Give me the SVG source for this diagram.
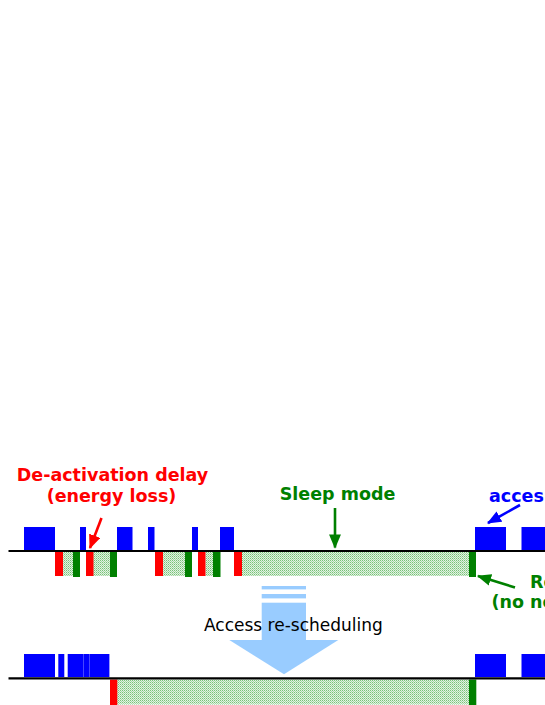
<svg xmlns="http://www.w3.org/2000/svg" width="545" height="705" viewBox="0 0 545 705">
<defs>
<style>
.blue{fill:#0000ff}
.red{fill:#ff0000}
.green{fill:#008000}
.hatch{fill:url(#dots)}
.axis{stroke:#000;stroke-width:2.2;fill:none}
.lbl{font-family:"DejaVu Sans",Verdana,sans-serif;font-weight:bold;font-size:17.5px}
.plain{font-family:"DejaVu Sans",Verdana,sans-serif;font-size:17px;fill:#000}
.big{fill:#99ccff}
</style>
<pattern id="dots" width="2" height="2" patternUnits="userSpaceOnUse">
<rect width="2" height="2" fill="#e2f2e2"/>
<rect width="1" height="1" fill="#78c278"/>
<rect x="1" y="1" width="1" height="1" fill="#a6d8a6"/>
</pattern>
<marker id="ar-red" viewBox="0 0 12 10" refX="11" refY="5" markerWidth="5.5" markerHeight="4.6" orient="auto" markerUnits="strokeWidth"><path d="M0,0 L12,5 L0,10 z" fill="#ff0000"/></marker>
<marker id="ar-green" viewBox="0 0 12 10" refX="11" refY="5" markerWidth="5.5" markerHeight="4.6" orient="auto" markerUnits="strokeWidth"><path d="M0,0 L12,5 L0,10 z" fill="#008000"/></marker>
<marker id="ar-blue" viewBox="0 0 12 10" refX="11" refY="5" markerWidth="5.5" markerHeight="4.6" orient="auto" markerUnits="strokeWidth"><path d="M0,0 L12,5 L0,10 z" fill="#0000ff"/></marker>
</defs>
<rect width="545" height="705" fill="#fff"/>

<g id="top-timeline">
<g id="top-hatch">
<rect class="hatch" x="63" y="552" width="10" height="24"/>
<rect class="hatch" x="93" y="552" width="17" height="24"/>
<rect class="hatch" x="163" y="552" width="22" height="24"/>
<rect class="hatch" x="205.5" y="552" width="7.5" height="24"/>
<rect class="hatch" x="242" y="552" width="227" height="24"/>
</g>
<g id="top-access">
<rect class="blue" x="24" y="527" width="31" height="23.5"/>
<rect class="blue" x="80" y="527" width="6" height="23.5"/>
<rect class="blue" x="117" y="527" width="15.5" height="23.5"/>
<rect class="blue" x="148" y="527" width="6.5" height="23.5"/>
<rect class="blue" x="192" y="527" width="6" height="23.5"/>
<rect class="blue" x="220" y="527" width="14" height="23.5"/>
<rect class="blue" x="475" y="527" width="31" height="23.5"/>
<rect class="blue" x="521.5" y="527" width="30" height="23.5"/>
</g>
<g id="top-deact">
<rect class="red" x="55" y="552" width="8" height="24"/>
<rect class="red" x="86" y="552" width="7.5" height="24"/>
<rect class="red" x="155" y="552" width="8" height="24"/>
<rect class="red" x="198" y="552" width="7.5" height="24"/>
<rect class="red" x="234" y="552" width="8" height="24"/>
</g>
<g id="top-react">
<rect class="green" x="73" y="552" width="7" height="25"/>
<rect class="green" x="110" y="552" width="7" height="25"/>
<rect class="green" x="185" y="552" width="7" height="25"/>
<rect class="green" x="213" y="552" width="7.5" height="25"/>
<rect class="green" x="469" y="552" width="7" height="25"/>
</g>
<line class="axis" x1="8.5" y1="551" x2="545" y2="551"/>
</g>

<g id="bottom-timeline">
<rect class="hatch" x="117" y="679.5" width="352" height="25"/>
<rect class="blue" x="24" y="654" width="31" height="23"/>
<rect class="blue" x="58.3" y="654" width="6" height="23"/>
<rect class="blue" x="67.7" y="654" width="15.6" height="23"/>
<rect class="blue" x="83.4" y="654" width="5.9" height="23"/>
<rect class="blue" x="89.4" y="654" width="20" height="23"/>
<rect class="blue" x="475" y="654" width="31" height="23"/>
<rect class="blue" x="521.5" y="654" width="30" height="23"/>
<rect class="red" x="110" y="679.5" width="7.3" height="25.5"/>
<rect class="green" x="469" y="679.5" width="7.3" height="25.5"/>
<line class="axis" x1="8.5" y1="678.3" x2="545" y2="678.3"/>
</g>

<g id="rescheduling-arrow">
<rect class="big" x="261.7" y="586" width="44.3" height="3.4"/>
<rect class="big" x="261.7" y="594" width="44.3" height="4.4"/>
<rect class="big" x="261.7" y="602.7" width="44.3" height="37.5"/>
<polygon class="big" points="229.3,640 338.3,640 284,674.3"/>
<text class="plain" x="204" y="630.5">Access re-scheduling</text>
</g>

<g id="label-deactivation">
<text class="lbl" fill="#ff0000" x="112.5" y="481" text-anchor="middle">De-activation delay</text>
<text class="lbl" fill="#ff0000" x="111.5" y="501.5" text-anchor="middle">(energy loss)</text>
</g>
<g id="label-sleep">
<text class="lbl" fill="#008000" x="337.5" y="499.5" text-anchor="middle">Sleep mode</text>
</g>
<g id="label-access">
<text class="lbl" fill="#0000ff" x="489" y="501.5">acces</text>
</g>
<g id="label-react">
<text class="lbl" fill="#008000" x="530" y="588">Re</text>
<text class="lbl" fill="#008000" x="491.5" y="607.5">(no ne</text>
</g>

<g id="connectors" stroke-width="2.6" fill="none">
<line x1="101.5" y1="518" x2="90" y2="548" stroke="#ff0000" marker-end="url(#ar-red)"/>
<line x1="335" y1="508" x2="335" y2="547.5" stroke="#008000" marker-end="url(#ar-green)"/>
<line x1="520" y1="505" x2="488" y2="523" stroke="#0000ff" marker-end="url(#ar-blue)"/>
<line x1="515" y1="587.5" x2="478" y2="576" stroke="#008000" marker-end="url(#ar-green)"/>
</g>
</svg>
